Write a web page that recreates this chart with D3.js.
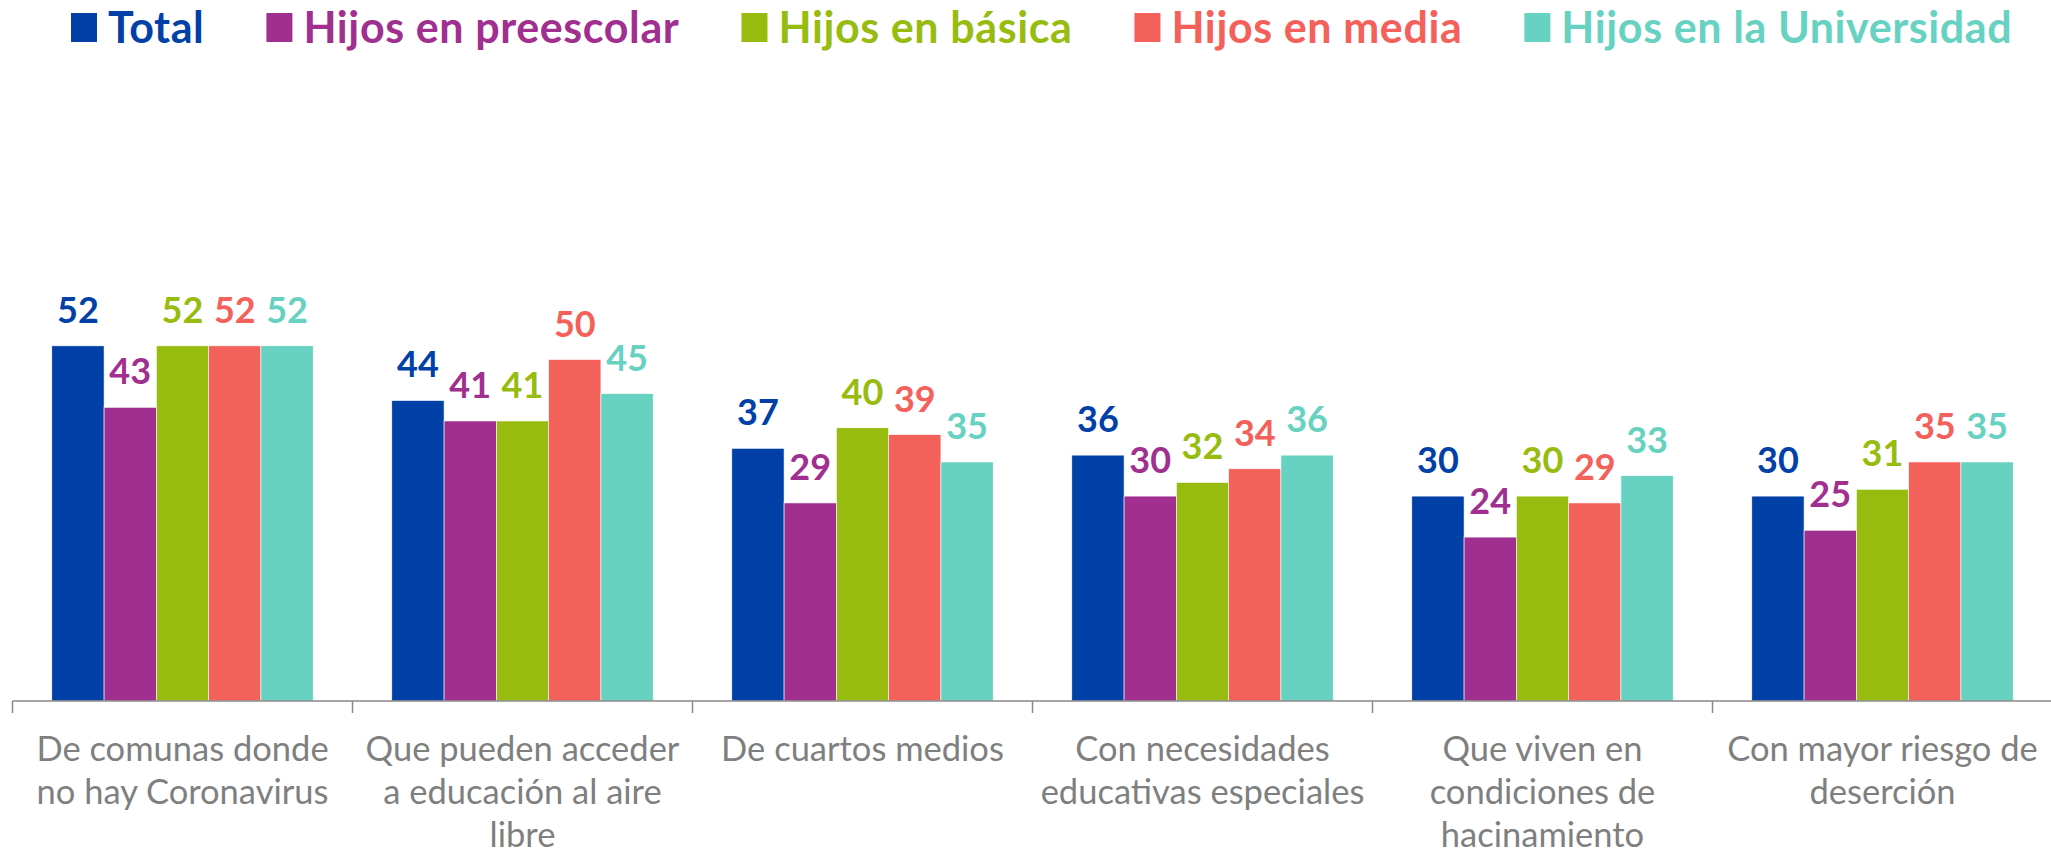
<!DOCTYPE html>
<html>
<head>
<meta charset="utf-8">
<script src="https://cdn.jsdelivr.net/npm/d3@7"></script>
<style>
  body { margin: 0; background: #fff; }
  #content { width: 2051px; height: 857px; }
  text { font-family: Lato, "Noto Sans", sans-serif; }
</style>
</head>
<body>
<div id="content"></div>
<script>
// Data

var categories = [
  ["De comunas donde", "no hay Coronavirus"],
  ["Que pueden acceder", "a educación al aire", "libre"],
  ["De cuartos medios"],
  ["Con necesidades", "educativas especiales"],
  ["Que viven en", "condiciones de", "hacinamiento"],
  ["Con mayor riesgo de", "deserción"]
];

var seriesNames = ["Total", "Hijos en preescolar", "Hijos en básica", "Hijos en media", "Hijos en la Universidad"];

var total       = [52, 44, 37, 36, 30, 30],
    preescolar  = [43, 41, 29, 30, 24, 25],
    basica      = [52, 41, 40, 32, 30, 31],
    media       = [52, 50, 39, 34, 29, 35],
    universidad = [52, 45, 35, 36, 33, 35];

var seriesValues = [total, preescolar, basica, media, universidad];

var myColors = ["#0040A7", "#A12F90", "#97BC0F", "#F4605A", "#67D1C2"];

// Graphic parameters

var width  = 2051,
    height = 857,
    axisY  = 701,
    xStart = 12.5,
    catW   = 340;

var svg = d3.select("#content").append("svg")
    .attr("width", width)
    .attr("height", height);

// Scales

var x0 = d3.scaleBand()
    .domain(d3.range(categories.length))
    .range([xStart, xStart + catW * categories.length]);

var x1 = d3.scaleBand()
    .domain(d3.range(seriesNames.length))
    .range([39.3, catW - 39.3]);

var y = d3.scaleLinear()
    .domain([0, 100])
    .range([axisY, 18]);

var color = d3.scaleOrdinal()
    .domain(seriesNames)
    .range(myColors);

// Bars

var rows = [];
seriesValues.forEach((vals, s) => {
  vals.forEach((v, c) => rows.push({ s: s, c: c, value: v }));
});

var bars = svg.append("g");

bars.selectAll("rect")
    .data(rows)
  .join("rect")
    .attr("x",      d => x0(d.c) + x1(d.s))
    .attr("y",      d => y(d.value))
    .attr("width",  x1.bandwidth())
    .attr("height", d => axisY - y(d.value))
    .attr("fill",   d => myColors[d.s])
    .attr("stroke", "#fff")
    .attr("stroke-width", 0.6);

bars.selectAll("text")
    .data(rows)
  .join("text")
    .attr("x", d => x0(d.c) + x1(d.s) + x1.bandwidth() / 2)
    .attr("y", d => y(d.value) - 23)
    .attr("text-anchor", "middle")
    .attr("font-weight", "bold")
    .attr("font-size", 36)
    .attr("fill", d => myColors[d.s])
    .text(d => d.value);

// Axis

var xAxis = svg.append("g")
    .attr("transform", "translate(0," + axisY + ")");

xAxis.append("line")
    .attr("x1", xStart).attr("x2", width)
    .attr("stroke", "#898989").attr("stroke-width", 1.5);

xAxis.selectAll("line.tick")
    .data(d3.range(categories.length + 1))
  .join("line")
    .attr("class", "tick")
    .attr("x1", i => xStart + i * catW).attr("x2", i => xStart + i * catW)
    .attr("y1", 0).attr("y2", 12)
    .attr("stroke", "#898989").attr("stroke-width", 1.5);

var labels = xAxis.selectAll("text")
    .data(categories)
  .join("text")
    .attr("x", (d, i) => x0(i) + x0.bandwidth() / 2)
    .attr("y", 60)
    .attr("text-anchor", "middle")
    .attr("font-size", 34.5)
    .attr("fill", "#7F7F7F");

labels.selectAll("tspan")
    .data(d => d)
  .join("tspan")
    .attr("x", function() { return this.parentNode.getAttribute("x"); })
    .attr("dy", (d, i) => i === 0 ? 0 : 43)
    .text(d => d);

// Legend

var legend = svg.append("g");
var lx = 71;
seriesNames.forEach((name, i) => {
  legend.append("rect")
      .attr("x", lx).attr("y", 13)
      .attr("width", 26).attr("height", 29)
      .attr("fill", color(name));
  var t = legend.append("text")
      .attr("x", lx + 37).attr("y", 43)
      .attr("font-size", 43)
      .attr("letter-spacing", 0.6)
      .attr("font-weight", "bold")
      .attr("fill", color(name))
      .text(name);
  lx += 37 + t.node().getComputedTextLength() + 62;
});
</script>
</body>
</html>
